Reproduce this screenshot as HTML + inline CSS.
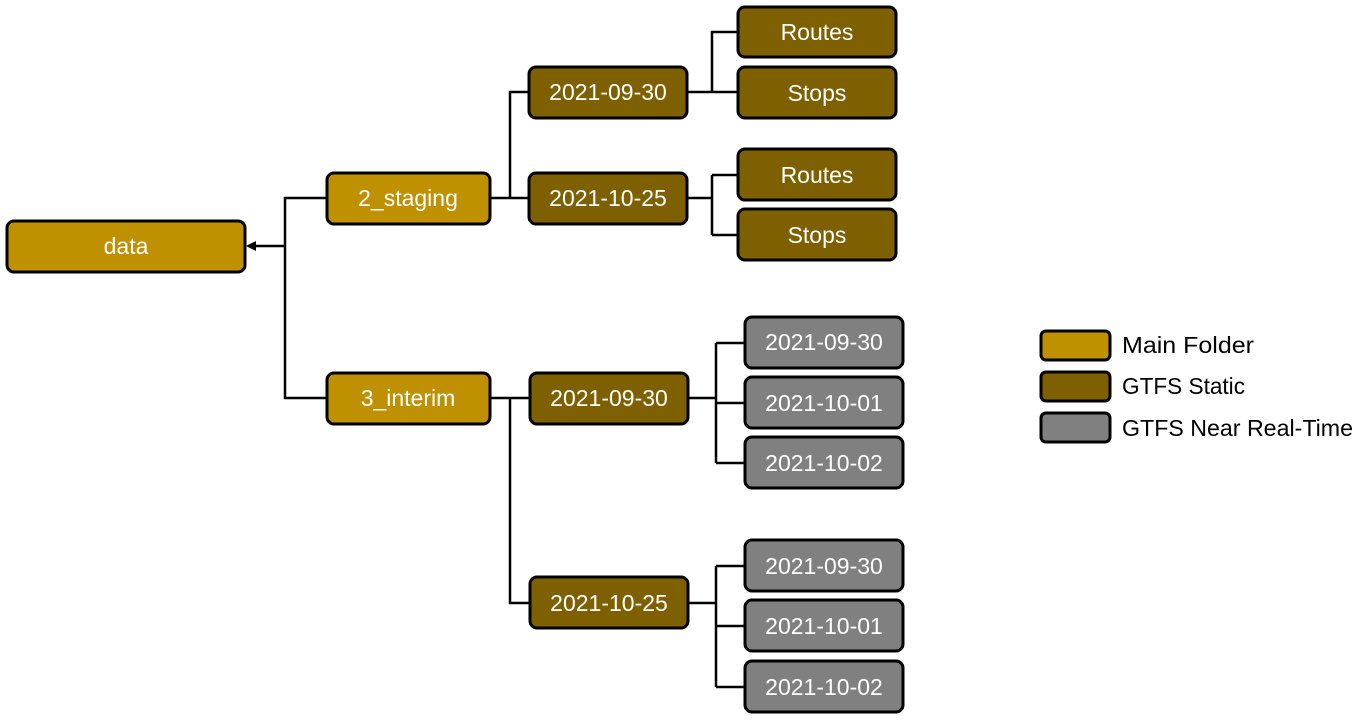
<!DOCTYPE html>
<html><head><meta charset="utf-8"><style>
html,body{margin:0;padding:0;background:#fff;}
svg text{font-family:"Liberation Sans",sans-serif;font-size:23px;}
</style></head><body>
<svg width="1364" height="719" viewBox="0 0 1364 719" xmlns="http://www.w3.org/2000/svg">
<g fill="none" stroke="#000" stroke-width="2.5">
<path d="M326 198H285V398H326"/>
<path d="M285 246H252"/>
<path d="M490 198H529M510 198V92H529"/>
<path d="M687 92H738M712 92V32H738"/>
<path d="M687 198H712M712 175V235M712 175H738M712 235H738"/>
<path d="M490 398H530M510 398V603H530"/>
<path d="M688 398H716M716 343V463M716 343H745M716 403H745M716 463H745"/>
<path d="M688 603H716M716 566V687M716 566H745M716 626H745M716 687H745"/>
</g>
<path d="M246 246L256 241V251Z" fill="#000"/>
<g stroke="#000" stroke-width="3">
<rect x="7" y="221" width="238" height="51" rx="7" fill="#bf9000"/>
<rect x="327" y="173" width="163" height="51" rx="7" fill="#bf9000"/>
<rect x="327" y="373" width="163" height="51" rx="7" fill="#bf9000"/>
<rect x="529" y="67" width="158" height="51" rx="7" fill="#7f6000"/>
<rect x="529" y="173" width="158" height="51" rx="7" fill="#7f6000"/>
<rect x="738" y="7" width="158" height="50" rx="7" fill="#7f6000"/>
<rect x="738" y="67" width="158" height="51" rx="7" fill="#7f6000"/>
<rect x="738" y="149" width="158" height="51" rx="7" fill="#7f6000"/>
<rect x="738" y="209" width="158" height="51" rx="7" fill="#7f6000"/>
<rect x="530" y="373" width="158" height="51" rx="7" fill="#7f6000"/>
<rect x="530" y="577" width="158" height="51" rx="7" fill="#7f6000"/>
<rect x="745" y="317" width="158" height="51" rx="7" fill="#808080"/>
<rect x="745" y="377" width="158" height="51" rx="7" fill="#808080"/>
<rect x="745" y="437" width="158" height="51" rx="7" fill="#808080"/>
<rect x="745" y="540" width="158" height="51" rx="7" fill="#808080"/>
<rect x="745" y="600" width="158" height="51" rx="7" fill="#808080"/>
<rect x="745" y="661" width="158" height="51" rx="7" fill="#808080"/>
<rect x="1041" y="331" width="69" height="29" rx="5" fill="#bf9000"/>
<rect x="1041" y="372" width="69" height="29" rx="5" fill="#7f6000"/>
<rect x="1041" y="413" width="69" height="29" rx="5" fill="#808080"/>
</g>
<g fill="#fff" text-anchor="middle">
<text x="126" y="254">data</text>
<text x="408" y="206">2_staging</text>
<text x="408" y="406">3_interim</text>
<text x="608" y="100">2021-09-30</text>
<text x="608" y="206">2021-10-25</text>
<text x="817" y="40">Routes</text>
<text x="817" y="101">Stops</text>
<text x="817" y="183">Routes</text>
<text x="817" y="243">Stops</text>
<text x="609" y="406">2021-09-30</text>
<text x="609" y="611">2021-10-25</text>
<text x="824" y="350">2021-09-30</text>
<text x="824" y="411">2021-10-01</text>
<text x="824" y="471">2021-10-02</text>
<text x="824" y="574">2021-09-30</text>
<text x="824" y="634">2021-10-01</text>
<text x="824" y="695">2021-10-02</text>
</g>
<g fill="#000" style="font-size:24px">
<text x="1122" y="353" textLength="132" lengthAdjust="spacingAndGlyphs">Main Folder</text>
<text x="1122" y="394" textLength="123" lengthAdjust="spacingAndGlyphs">GTFS Static</text>
<text x="1122" y="436" textLength="231" lengthAdjust="spacingAndGlyphs">GTFS Near Real-Time</text>
</g>
</svg>
</body></html>
